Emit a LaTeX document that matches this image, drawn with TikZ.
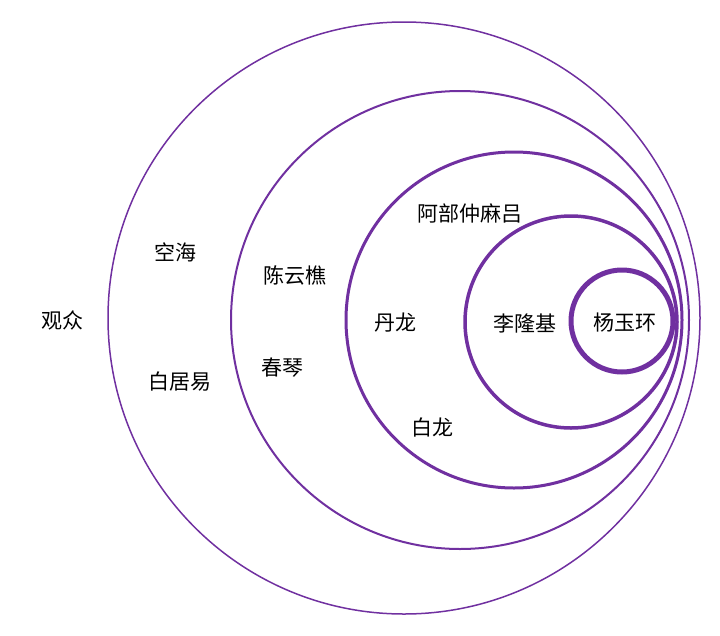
\documentclass[tikz,border=0pt]{standalone}
\usepackage{fontspec}
\newfontfamily\cjk{Noto Sans CJK SC}
\definecolor{pp}{HTML}{7030A0}
\begin{document}
\begin{tikzpicture}[x=1pt,y=-1pt,
  lbl/.style={font=\cjk\fontsize{21}{24}\selectfont,text=black,inner sep=0pt},
  ring/.style={draw=pp}]
\useasboundingbox (0,0) rectangle (720,635);
\draw[ring,line width=1.5pt] (404,318) circle (296);
\draw[ring,line width=2pt] (460,320) circle (229);
\draw[ring,line width=3pt] (514,320) circle (168);
\draw[ring,line width=3.5pt] (571,322) circle (106);
\draw[ring,line width=5pt] (622,321) circle (51);
\node[lbl] (a) at (62,320) {观众};
\node[lbl] (b) at (175,252) {空海};
\node[lbl] (c) at (180,382) {白居易};
\node[lbl] (d) at (295,275) {陈云樵};
\node[lbl] (e) at (282,368) {春琴};
\node[lbl] (f) at (470,213) {阿部仲麻吕};
\node[lbl] (g) at (395,323) {丹龙};
\node[lbl] (h) at (432,427) {白龙};
\node[lbl] (i) at (525,323) {李隆基};
\node[lbl] (j) at (625,323) {杨玉环};
\end{tikzpicture}
\end{document}
